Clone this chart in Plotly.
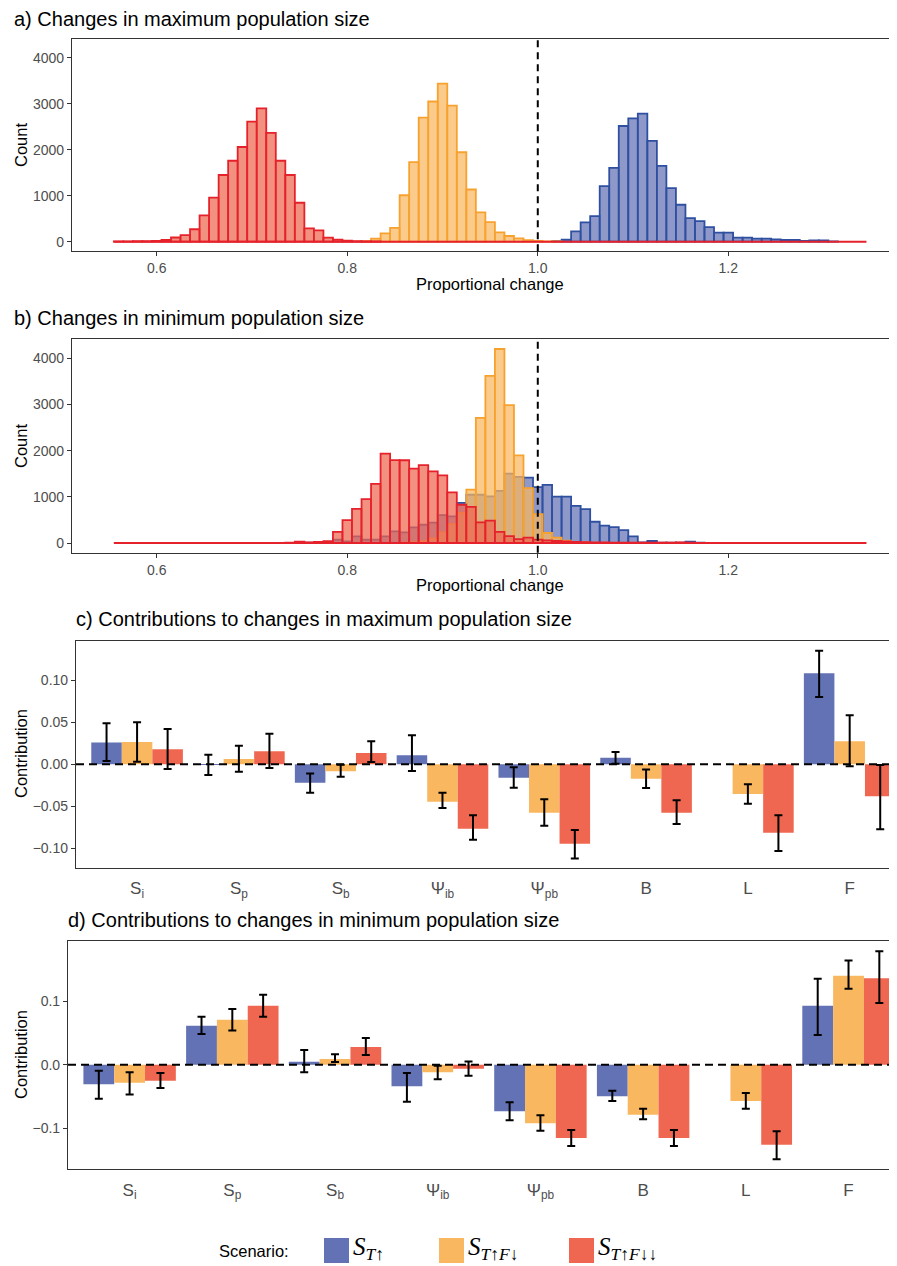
import plotly.graph_objects as go

W, H = 897, 1266          # target picture size
OFF = 8                   # page body margin the figure sits inside
FW, FH = W - OFF, H - OFF # figure size actually drawn
BIN_W = 0.01
HIST_EDGES = [0.555, 1.345]
REF_X = 1.0

# ---------- panel a: changes in maximum population size (histogram counts) ----------
a_blue_start = 1.02
a_blue = [10, 43, 224, 420, 557, 1208, 1606, 2517, 2683, 2785, 2192, 1650, 1165, 803, 514,
          448, 318, 195, 195, 87, 87, 65, 65, 50, 36, 36, 14, 29, 29, 5]
a_orange_start = 0.82
a_orange = [10, 65, 180, 300, 1010, 1730, 2700, 3050, 3440, 2960, 1945, 1135, 636, 427, 200,
            123, 72, 30, 15, 5, 5]
a_red_start = 0.56
a_red = [3, 5, 10, 12, 15, 40, 90, 140, 270, 570, 960, 1450, 1760, 2060, 2610, 2900, 2365,
         1760, 1450, 846, 290, 245, 87, 43, 20, 10, 5, 3]

# ---------- panel b: changes in minimum population size ----------
b_blue_start = 0.76
b_blue = [5, 10, 20, 70, 36, 144, 70, 72, 144, 252, 230, 340, 395, 440, 604, 575, 868, 1045,
          1045, 1010, 1130, 1500, 1430, 1416, 1208, 1258, 1006, 1006, 805, 733, 460, 374, 345,
          280, 144, 14, 43, 10, 10, 10, 29, 5]
b_orange_start = 0.86
b_orange = [10, 20, 40, 100, 230, 410, 650, 1155, 2710, 3618, 4200, 2984, 1895, 1190, 626,
            216, 118, 50, 15, 5]
b_red_start = 0.74
b_red = [10, 30, 15, 25, 40, 240, 495, 738, 950, 1282, 1937, 1795, 1792, 1612, 1687, 1552,
         1465, 1098, 828, 782, 446, 486, 241, 148, 86, 118, 72, 58, 43, 33, 25, 20, 15, 15, 10,
         10, 8, 5, 5, 5, 5, 15, 5]

hist_ticks = [0.6, 0.8, 1.0, 1.2]
hist_ticktext = ["0.6", "0.8", "1.0", "1.2"]
count_ticks = [0, 1000, 2000, 3000, 4000]

# ---------- panels c, d: contributions ----------
categories = ["S<sub>i</sub>", "S<sub>p</sub>", "S<sub>b</sub>", "Ψ<sub>ib</sub>",
              "Ψ<sub>pb</sub>", "B", "L", "F"]

c_blue = [0.026, -0.0005, -0.022, 0.0107, -0.0158, 0.0079, None, 0.1081]
c_blue_lo = [0.004, -0.0127, -0.0337, -0.0079, -0.0277, 0.0008, None, 0.080]
c_blue_hi = [0.0487, 0.0115, -0.011, 0.0345, -0.0036, 0.0147, None, 0.135]
c_orange = [0.0265, 0.0063, -0.0083, -0.0444, -0.0574, -0.017, -0.0352, 0.0273]
c_orange_lo = [0.003, -0.0087, -0.0147, -0.052, -0.0729, -0.028, -0.0467, -0.0024]
c_orange_hi = [0.050, 0.022, -0.0004, -0.0337, -0.0416, -0.006, -0.0238, 0.0582]
c_red = [0.0178, 0.0154, 0.0135, -0.0764, -0.0943, -0.0574, -0.0812, -0.038]
c_red_lo = [-0.0055, -0.0044, 0.0028, -0.0895, -0.112, -0.0709, -0.103, -0.0772]
c_red_hi = [0.042, 0.0364, 0.0273, -0.0606, -0.078, -0.0428, -0.0606, -0.0008]

d_blue = [-0.031, 0.0614, 0.0047, -0.0341, -0.0735, -0.0499, None, 0.0929]
d_blue_lo = [-0.0535, 0.0483, -0.012, -0.0583, -0.0877, -0.0572, None, 0.0467]
d_blue_hi = [-0.0094, 0.0756, 0.0231, -0.0131, -0.0593, -0.041, None, 0.1354]
d_orange = [-0.0283, 0.0709, 0.0089, -0.012, -0.0924, -0.0787, -0.0572, 0.1402]
d_orange_lo = [-0.047, 0.054, 0.0042, -0.023, -0.104, -0.086, -0.0693, 0.1197]
d_orange_hi = [-0.012, 0.0877, 0.0163, -0.0016, -0.0798, -0.0693, -0.0446, 0.164]
d_red = [-0.0252, 0.0929, 0.0278, -0.0063, -0.1155, -0.1155, -0.126, 0.136]
d_red_lo = [-0.0367, 0.0756, 0.0152, -0.0173, -0.128, -0.128, -0.149, 0.0971]
d_red_hi = [-0.013, 0.110, 0.042, 0.005, -0.1029, -0.103, -0.105, 0.1785]

scenario_labels = ["<i>S</i><sub><i>T</i>↑</sub>",
                   "<i>S</i><sub><i>T</i>↑<i>F</i>↓</sub>",
                   "<i>S</i><sub><i>T</i>↑<i>F</i>↓↓</sub>"]

# ---------- styles ----------
BAR_COLORS = ["#6272B4", "#F9B760", "#EF6750"]
HIST_FILL = ["rgba(98,114,180,0.72)", "rgba(249,183,96,0.72)", "rgba(239,103,80,0.72)"]
HIST_LINE = ["#2F4FA0", "#F7A12E", "#E5222B"]
FONT = "Liberation Sans, Arial, sans-serif"
TICK_FONT = dict(family=FONT, size=14, color="#4D4D4D")
AX_LINE = "#333333"


def px_x(p):
    return (p - OFF) / FW


def px_y(p):
    return 1 - (p - OFF) / FH


def centers(start, n):
    return [round(start + i * BIN_W, 2) for i in range(n)]


fig = go.Figure()

# histograms
hist_sets = [
    ("x", "y", [(a_blue_start, a_blue), (a_orange_start, a_orange), (a_red_start, a_red)]),
    ("x2", "y2", [(b_blue_start, b_blue), (b_orange_start, b_orange), (b_red_start, b_red)]),
]
for xa, ya, series in hist_sets:
    for i, (start, counts) in enumerate(series):
        fig.add_trace(go.Bar(
            x=centers(start, len(counts)), y=counts, width=BIN_W, offset=-BIN_W / 2,
            marker=dict(color=HIST_FILL[i], line=dict(color=HIST_LINE[i], width=1.8)),
            xaxis=xa, yaxis=ya, showlegend=False, hoverinfo="x+y"))
    # zero-height bins drawn as a baseline (as the reference does)
    fig.add_trace(go.Scatter(x=HIST_EDGES, y=[0, 0], mode="lines",
                             line=dict(color=HIST_LINE[2], width=2),
                             xaxis=xa, yaxis=ya, showlegend=False, hoverinfo="skip"))


def err(v, lo, hi):
    plus = [None if a is None else h - a for a, h in zip(v, hi)]
    minus = [None if a is None else a - l for a, l in zip(v, lo)]
    return plus, minus


bar_sets = [
    ("x3", "y3", [(c_blue, c_blue_lo, c_blue_hi), (c_orange, c_orange_lo, c_orange_hi),
                  (c_red, c_red_lo, c_red_hi)]),
    ("x4", "y4", [(d_blue, d_blue_lo, d_blue_hi), (d_orange, d_orange_lo, d_orange_hi),
                  (d_red, d_red_lo, d_red_hi)]),
]
for xa, ya, series in bar_sets:
    for i, (v, lo, hi) in enumerate(series):
        plus, minus = err(v, lo, hi)
        fig.add_trace(go.Bar(
            x=categories, y=v, xaxis=xa, yaxis=ya, showlegend=False,
            marker=dict(color=BAR_COLORS[i], line=dict(width=0)),
            error_y=dict(type="data", symmetric=False, array=plus, arrayminus=minus,
                         color="black", thickness=2, width=4)))

# ---------- layout / axes ----------
panels = {
    "a": dict(x0=72, y0=39, y1=251.3),
    "b": dict(x0=72, y0=339.3, y1=552.7),
    "c": dict(x0=76, y0=641, y1=867.7),
    "d": dict(x0=68, y0=941, y1=1169.3),
}

common_x = dict(showline=True, linecolor=AX_LINE, linewidth=1.2, mirror=True,
                showgrid=False, zeroline=False, tickfont=TICK_FONT)
common_y = dict(showline=True, linecolor=AX_LINE, linewidth=1.2, mirror=False,
                showgrid=False, zeroline=False, tickfont=TICK_FONT,
                ticks="outside", ticklen=4, tickwidth=1.2, tickcolor=AX_LINE)

hist_unit = 952.7  # px per unit on histogram x axes
layout_axes = {}
for key, xname, yname in [("a", "xaxis", "yaxis"), ("b", "xaxis2", "yaxis2")]:
    p = panels[key]
    left = 0.6 - (156.7 - p["x0"]) / hist_unit
    right = left + (W - p["x0"]) / hist_unit
    layout_axes[xname] = dict(common_x, domain=[px_x(p["x0"]), 1], range=[left, right],
                              tickvals=hist_ticks, ticktext=hist_ticktext,
                              ticks="outside", ticklen=4, tickwidth=1.2, tickcolor=AX_LINE,
                              anchor=yname.replace("axis", ""))
    layout_axes[yname] = dict(common_y, domain=[px_y(p["y1"]), px_y(p["y0"])],
                              range=[-210, 4410], tickvals=count_ticks,
                              anchor=xname.replace("axis", ""))

for key, xname, yname, unit, yr, yt, fmt in [
        ("c", "xaxis3", "yaxis3", 101.8, [-0.1228, 0.1465], [-0.10, -0.05, 0.0, 0.05, 0.10], ".2f"),
        ("d", "xaxis4", "yaxis4", 102.7, [-0.1648, 0.1948], [-0.1, 0.0, 0.1], ".1f")]:
    p = panels[key]
    layout_axes[xname] = dict(common_x, domain=[px_x(p["x0"]), 1],
                              range=[-0.6, -0.6 + (W - p["x0"]) / unit],
                              type="category", ticks="outside", ticklen=5,
                              tickcolor="rgba(0,0,0,0)",
                              tickfont=dict(family=FONT, size=17, color="#4D4D4D"),
                              anchor=yname.replace("axis", ""))
    layout_axes[yname] = dict(common_y, domain=[px_y(p["y1"]), px_y(p["y0"])],
                              range=yr, tickvals=yt, tickformat=fmt,
                              anchor=xname.replace("axis", ""))

shapes = []
# vertical reference lines in histograms
for xr, yr in [("x", "y domain"), ("x2", "y2 domain")]:
    shapes.append(dict(type="line", xref=xr, yref=yr, x0=REF_X, x1=REF_X, y0=0, y1=1,
                       line=dict(color="black", width=2, dash="7px,5px"), layer="above"))
# horizontal zero lines in contribution panels
for xr, yr in [("x3 domain", "y3"), ("x4 domain", "y4")]:
    shapes.append(dict(type="line", xref=xr, yref=yr, x0=0, x1=1, y0=0, y1=0,
                       line=dict(color="black", width=2, dash="8px,5px"), layer="above"))

annotations = []


def ann(text, x, y, size, color="black", xanchor="left", angle=0, family=FONT):
    annotations.append(dict(text=text, x=px_x(x), y=px_y(y), xref="paper", yref="paper",
                            xanchor=xanchor, yanchor="middle", showarrow=False,
                            textangle=angle, borderpad=0,
                            font=dict(family=family, size=size, color=color)))


ann("a) Changes in maximum population size", 13, 19, 20)
ann("b) Changes in minimum population size", 13, 318, 20)
ann("c) Contributions to changes in maximum population size", 75, 619, 20)
ann("d) Contributions to changes in minimum population size", 67, 920, 20)
ann("Proportional change", 490, 284, 16.5, xanchor="center")
ann("Proportional change", 490, 585, 16.5, xanchor="center")
ann("Count", 21, 145, 16.5, xanchor="center", angle=-90)
ann("Count", 21, 446, 16.5, xanchor="center", angle=-90)
ann("Contribution", 21, 754, 16.5, xanchor="center", angle=-90)
ann("Contribution", 21, 1055, 16.5, xanchor="center", angle=-90)

# legend (scenario key)
ann("Scenario:", 290, 1251, 16.5, xanchor="right")
key_x = [324, 439, 569]
for i, kx in enumerate(key_x):
    shapes.append(dict(type="rect", xref="paper", yref="paper",
                       x0=px_x(kx), x1=px_x(kx + 25), y0=px_y(1263), y1=px_y(1238),
                       fillcolor=BAR_COLORS[i], line=dict(width=0)))
    ann(scenario_labels[i], kx + 28, 1248, 25, family="Liberation Serif, DejaVu Serif, serif")

fig.update_layout(
    width=FW, height=FH, margin=dict(l=0, r=0, t=0, b=0),
    paper_bgcolor="white", plot_bgcolor="white",
    barmode="group", bargap=0.1, bargroupgap=0,
    font=dict(family=FONT), shapes=shapes, annotations=annotations,
    **layout_axes)

fig.write_html("out.html")
